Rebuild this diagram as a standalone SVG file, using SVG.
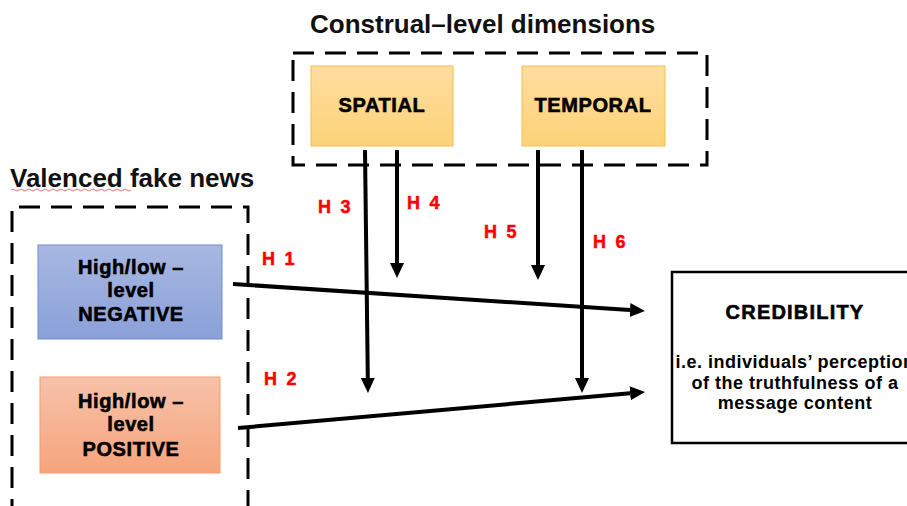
<svg xmlns="http://www.w3.org/2000/svg" width="907" height="506" viewBox="0 0 907 506">
  <style>
    .title { font-family: "Liberation Sans", Arial, sans-serif; font-size: 26px; font-weight: bold; fill: #111; }
    .dash { fill: none; stroke: #000; stroke-width: 3; stroke-dasharray: 21 11; }
    .lbl { font-family: "Liberation Sans", Arial, sans-serif; font-size: 20px; font-weight: bold; fill: #000; stroke: #000; stroke-width: 0.6; text-anchor: middle; letter-spacing: 0.6px; }
    .h { font-family: "Liberation Sans", Arial, sans-serif; font-size: 18px; font-weight: bold; fill: #f00; stroke: #f00; stroke-width: 0.5; letter-spacing: 2.3px; }
    .sub { font-family: "Liberation Sans", Arial, sans-serif; font-size: 18px; font-weight: bold; fill: #000; text-anchor: middle; letter-spacing: 0.5px; }
    .conn { fill: none; stroke: #000; stroke-width: 4; marker-end: url(#ah); }
  </style>
  <defs>
    <linearGradient id="gY" x1="0" y1="0" x2="0" y2="1">
      <stop offset="0" stop-color="#fedda0"/>
      <stop offset="1" stop-color="#fdd278"/>
    </linearGradient>
    <linearGradient id="gB" x1="0" y1="0" x2="0" y2="1">
      <stop offset="0" stop-color="#a8b8e1"/>
      <stop offset="1" stop-color="#8aa0d8"/>
    </linearGradient>
    <linearGradient id="gO" x1="0" y1="0" x2="0" y2="1">
      <stop offset="0" stop-color="#f7c2aa"/>
      <stop offset="1" stop-color="#f5a47c"/>
    </linearGradient>
    <marker id="ah" markerUnits="userSpaceOnUse" markerWidth="16" markerHeight="16" refX="0" refY="7" orient="auto">
      <path d="M0,0 L15,7 L0,14 Z" fill="#000"/>
    </marker>
  </defs>

  <g id="group-construal">
    <text class="title" x="310" y="33">Construal–level dimensions</text>
    <rect class="dash" x="293" y="53" width="414" height="112"/>
  </g>

  <g id="group-valenced">
    <text class="title" x="10" y="187">Valenced fake news</text>
    <path d="M11,190 q2,-2 4,0 t4,0 t4,0 t4,0 t4,0 t4,0 t4,0 t4,0 t4,0 t4,0 t4,0 t4,0 t4,0 t4,0 t4,0 t4,0 t4,0 t4,0 t4,0 t4,0 t4,0 t4,0 t4,0 t4,0 t4,0 t4,0 t4,0 t4,0 t4,0 t4,0" fill="none" stroke="#e05050" stroke-width="0.8"/>
    <path class="dash" d="M12,520 L12,207 L248,207 L248,520"/>
  </g>

  <g id="spatial">
    <rect x="311" y="66" width="142" height="80" fill="url(#gY)" stroke="#f5c141" stroke-width="1"/>
    <text class="lbl" x="382" y="112">SPATIAL</text>
  </g>

  <g id="temporal">
    <rect x="522" y="66" width="143" height="80" fill="url(#gY)" stroke="#f5c141" stroke-width="1"/>
    <text class="lbl" x="593" y="112">TEMPORAL</text>
  </g>

  <g id="negative">
    <rect x="38" y="245" width="184" height="94" fill="url(#gB)" stroke="#6f8ed0" stroke-width="1"/>
    <text class="lbl" x="131" y="274">High/low –</text>
    <text class="lbl" x="131" y="297">level</text>
    <text class="lbl" x="131" y="321">NEGATIVE</text>
  </g>

  <g id="positive">
    <rect x="40" y="377" width="180" height="96" fill="url(#gO)" stroke="#f0a071" stroke-width="1"/>
    <text class="lbl" x="131" y="408">High/low –</text>
    <text class="lbl" x="131" y="431">level</text>
    <text class="lbl" x="131" y="456">POSITIVE</text>
  </g>

  <g id="credibility">
    <rect x="672" y="272" width="250" height="171" fill="#fff" stroke="#000" stroke-width="2.5"/>
    <text class="lbl" x="795" y="319" style="letter-spacing:1.2px">CREDIBILITY</text>
    <text class="sub" x="795" y="368">i.e. individuals’ perception</text>
    <text class="sub" x="795" y="389">of the truthfulness of a</text>
    <text class="sub" x="795" y="409">message content</text>
  </g>

  <g id="connectors">
    <line class="conn" x1="233" y1="284" x2="630" y2="310"/>
    <line class="conn" x1="238" y1="428" x2="630.1" y2="393.3"/>
    <line class="conn" x1="365" y1="150" x2="367.8" y2="378"/>
    <line class="conn" x1="397" y1="150" x2="397" y2="263"/>
    <line class="conn" x1="538" y1="150" x2="538" y2="265"/>
    <line class="conn" x1="582" y1="150" x2="582" y2="378"/>
  </g>

  <g id="labels">
    <text class="h" x="262" y="265">H 1</text>
    <text class="h" x="264" y="385">H 2</text>
    <text class="h" x="318" y="213">H 3</text>
    <text class="h" x="407" y="209">H 4</text>
    <text class="h" x="484" y="238">H 5</text>
    <text class="h" x="593" y="248">H 6</text>
  </g>
</svg>
